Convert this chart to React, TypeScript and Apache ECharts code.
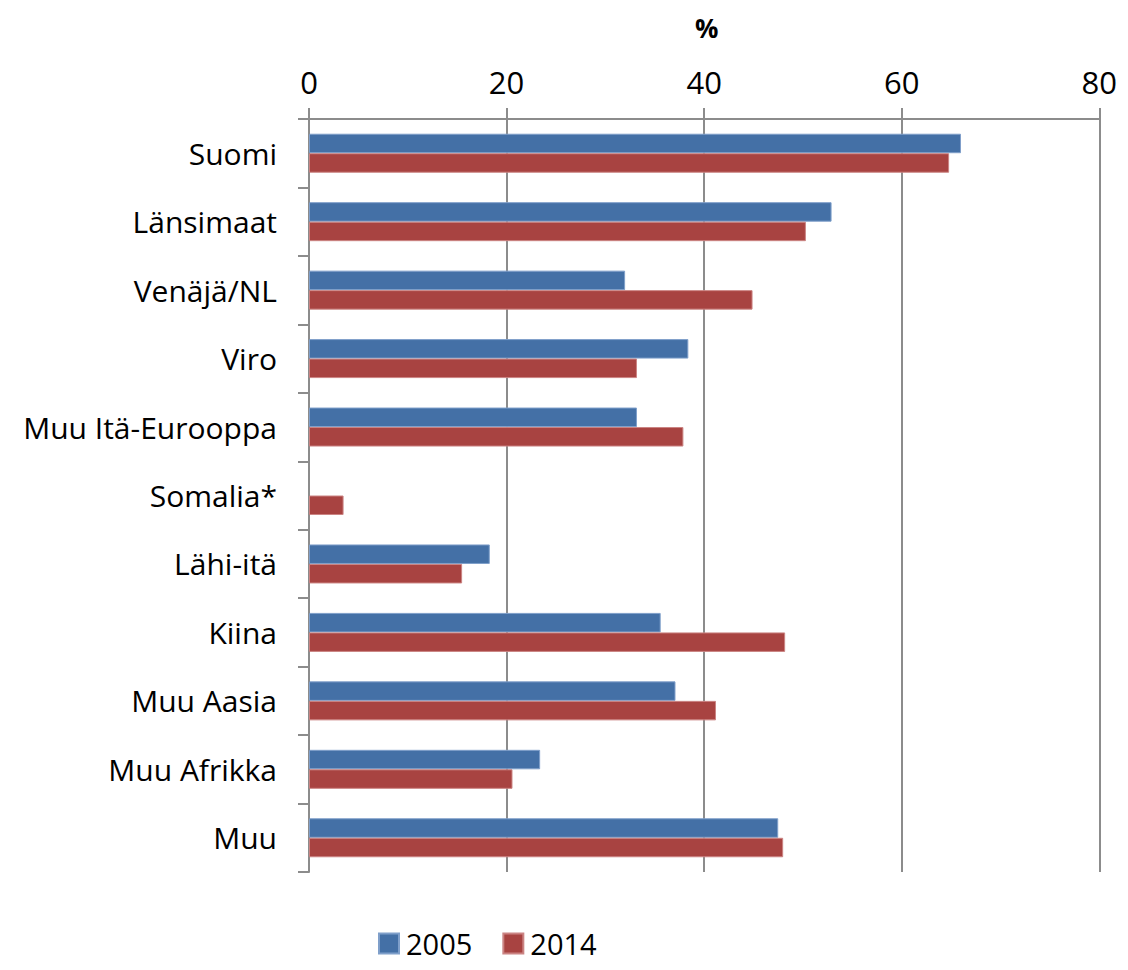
import React, { useEffect, useRef } from "react";
import * as echarts from "echarts";

const categories = [
  "Suomi",
  "Länsimaat",
  "Venäjä/NL",
  "Viro",
  "Muu Itä-Eurooppa",
  "Somalia*",
  "Lähi-itä",
  "Kiina",
  "Muu Aasia",
  "Muu Afrikka",
  "Muu",
];
const values2005 = [66.0, 52.9, 32.0, 38.4, 33.2, null, 18.3, 35.6, 37.1, 23.4, 47.5];
const values2014 = [64.8, 50.3, 44.9, 33.2, 37.9, 3.5, 15.5, 48.2, 41.2, 20.6, 48.0];
const seriesNames = ["2005", "2014"];
const axisTitle = "%";

const FONT = "'Open Sans', Lato, sans-serif";
const AXIS_COLOR = "#8c8c8c";

export default function App() {
  const ref = useRef<HTMLDivElement>(null);
  useEffect(() => {
    if (!ref.current) return;
    const chart = echarts.init(ref.current, undefined, { renderer: "svg" });
    chart.setOption({
      animation: false,
      textStyle: { fontFamily: FONT },
      grid: { left: 301, right: 17, top: 111, bottom: 98, containLabel: false },
      graphic: [
        {
          type: "text",
          left: 687,
          top: 7,
          style: { text: axisTitle, font: `bold 26px ${FONT}`, fill: "#000" },
        },
      ],
      legend: {
        left: 365,
        top: 916,
        itemWidth: 20,
        itemHeight: 20,
        itemGap: 30,
        icon: "rect",
        textStyle: { fontSize: 29, color: "#000", fontFamily: FONT, padding: [0, 0, 0, 2] },
        data: seriesNames,
      },
      xAxis: {
        type: "value",
        position: "top",
        min: 0,
        max: 80,
        interval: 20,
        axisLine: { show: true, lineStyle: { color: AXIS_COLOR, width: 2 } },
        axisTick: { show: true, length: 11, lineStyle: { color: AXIS_COLOR, width: 2 } },
        axisLabel: { fontSize: 31, color: "#000", margin: 22, fontFamily: FONT },
        splitLine: { show: true, lineStyle: { color: AXIS_COLOR, width: 2 } },
      },
      yAxis: {
        type: "category",
        inverse: true,
        data: categories,
        axisLine: { show: true, lineStyle: { color: AXIS_COLOR, width: 2 } },
        axisTick: { show: true, length: 11, lineStyle: { color: AXIS_COLOR, width: 2 } },
        axisLabel: { fontSize: 30, color: "#000", margin: 32, fontFamily: FONT },
      },
      series: [
        {
          name: seriesNames[0],
          type: "bar",
          data: values2005,
          barWidth: 19.5,
          barGap: "0%",
          itemStyle: { color: "#4470A6", borderColor: "#7f9fca", borderWidth: 1 },
        },
        {
          name: seriesNames[1],
          type: "bar",
          data: values2014,
          barWidth: 19.5,
          barGap: "0%",
          itemStyle: { color: "#A84341", borderColor: "#cb8483", borderWidth: 1 },
        },
      ],
    });
    return () => chart.dispose();
  }, []);
  return <div ref={ref} style={{ width: 1112, height: 962 }} />;
}
